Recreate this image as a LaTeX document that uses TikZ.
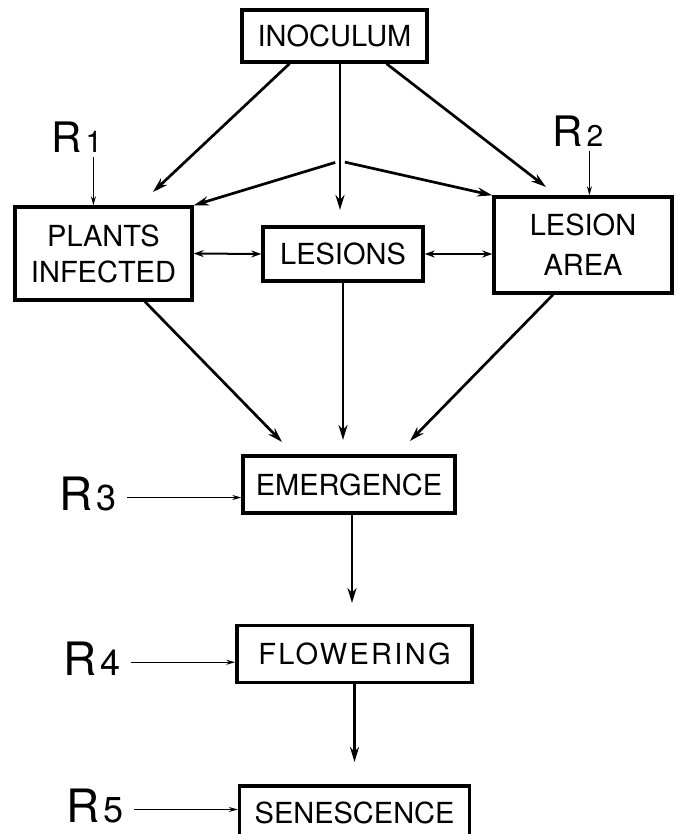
\documentclass[tikz,border=0pt]{standalone}
\usepackage{fontspec}
\setmainfont{TeX Gyre Heros}
\usepackage{tikz}
\usetikzlibrary{positioning,arrows.meta,calc}
\tikzset{
  blk/.style={draw,line width=1.7pt,align=center,inner sep=0pt,
              font=\fontsize{14.5}{18}\selectfont},
  fl/.style={-{Stealth[length=7.5pt,width=4.5pt]},line width=1.35pt},
  dbl/.style={{Stealth[length=5pt,width=3.5pt]}-{Stealth[length=5pt,width=3.5pt]},line width=1pt},
  thn/.style={-{Stealth[length=4.5pt,width=2.5pt]},line width=0.6pt},
  rlab/.style={inner sep=0pt,anchor=base west,font=\fontsize{23}{23}\selectfont},
  rtop/.style={rlab,font=\fontsize{21}{21}\selectfont},
}
\newcommand\rlabel[2][18]{R\kern2pt{\fontsize{#1}{#1}\selectfont #2}}

\begin{document}
\begin{tikzpicture}[x=0.5pt,y=-0.5pt]
\useasboundingbox (0,0) rectangle (678,834);
% top row
\node[blk,minimum width=92.5pt,minimum height=26pt] (inoc) at (334.5,36) {INOCULUM};
\node[blk,minimum width=88.5pt,minimum height=46.5pt] (plants) at (103.5,253.5) {PLANTS\\INFECTED};
\node[blk,minimum width=80pt,minimum height=27pt] (lesions) at (343,254) {LESIONS};
\node[blk,minimum width=89pt,minimum height=48pt] (area) at (583,245) {LESION\\[2pt]AREA};
% crop stages
\node[blk,minimum width=106pt,minimum height=28.5pt] (emerg) at (349,484.5) {EMERGENCE};
\node[blk,minimum width=117.5pt,minimum height=28.5pt,below=54.5pt of emerg,xshift=2.75pt] (flower)
  {\addfontfeature{LetterSpace=8}FLOWERING};
\node[blk,minimum width=115pt,minimum height=27pt,below=50pt of flower] (senes) {SENESCENCE};
% R inputs
\node[rtop] (r1) at (51,153) {\rlabel[15]{1}};
\node[rtop] (r2) at (552,147) {\rlabel[15]{2}};
\node[rlab] (r3) at (59,510) {\rlabel{3}};
\node[rlab] (r4) at (63,675) {\rlabel{4}};
\node[rlab] (r5) at (66,822) {\rlabel{5}};
% free arrow ends
\coordinate (split) at (340,161);
\coordinate (tipP) at (153,192);
\coordinate (tipL) at (340,210);
\coordinate (tipA) at (546,187);
\coordinate (inE) at (282,442);
\coordinate (inM) at (343,440);
\coordinate (inA) at (410,441);
\coordinate (inF) at (352,603);
\coordinate (inS) at (354.5,762);
% inoculum
\draw[fl] ($(inoc.south)+(-45,0)$) -- (tipP);
\draw[fl] (inoc.south -| tipL) -- (tipL);
\draw[fl] ($(inoc.south)+(52,0)$) -- (tipA);
\draw[fl,shorten <=2.5pt] (split) -- (plants.north east);
\draw[fl,shorten <=2.5pt] (split) -- (area.north west);
% links
\draw[dbl] (plants.east) -- (lesions.west);
\draw[dbl] (lesions.east) -- (lesions.east -| area.west);
\draw[fl] ($(plants.south)+(41.5,0)$) -- (inE);
\draw[fl] (lesions.south) -- (inM);
\draw[fl] ($(area.south)+(-30,0)$) -- (inA);
\draw[fl] (emerg.south -| inF) -- (inF);
\draw[fl] (flower.south) -- (inS);
% R arrows
\draw[thn,shorten <=2pt] ([xshift=8.25pt]r1.south) -- ([xshift=8.25pt]r1.south |- plants.north);
\draw[thn,shorten <=2pt] ([xshift=5.75pt]r2.south) -- ([xshift=5.75pt]r2.south |- area.north);
\draw[thn,shorten <=5pt] ([yshift=-2pt]r3.east) -- ([yshift=-2pt]r3.east -| emerg.west);
\draw[thn,shorten <=5pt] ([yshift=-2pt]r4.east) -- ([yshift=-2pt]r4.east -| flower.west);
\draw[thn,shorten <=5pt] ([yshift=-2pt]r5.east) -- ([yshift=-2pt]r5.east -| senes.west);
\end{tikzpicture}
\end{document}
